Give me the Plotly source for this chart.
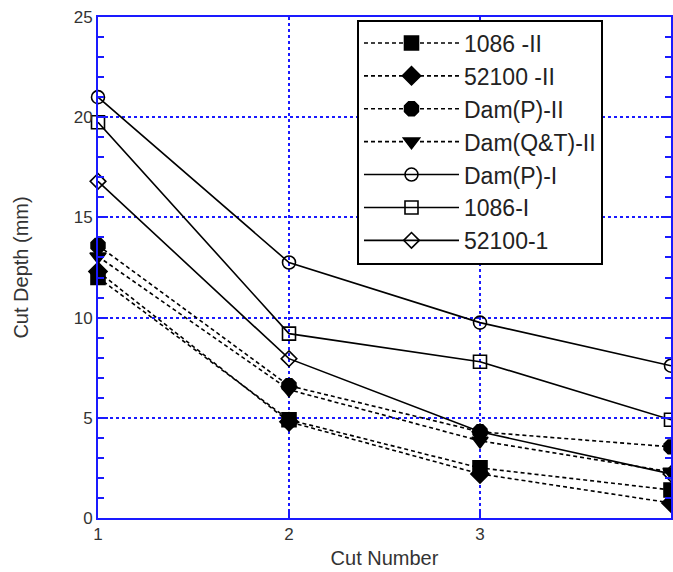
import plotly.graph_objects as go

cuts = [1, 2, 3, 4]

names = ["1086 -II", "52100 -II", "Dam(P)-II", "Dam(Q&T)-II", "Dam(P)-I", "1086-I", "52100-1"]
v_1086_II = [12.0, 4.9, 2.5, 1.4]
v_52100_II = [12.3, 4.8, 2.2, 0.75]
v_DamP_II = [13.6, 6.6, 4.3, 3.55]
v_DamQT_II = [13.05, 6.4, 3.85, 2.3]
v_DamP_I = [21.0, 12.75, 9.75, 7.6]
v_1086_I = [19.75, 9.2, 7.8, 4.9]
v_52100_1 = [16.8, 7.95, 4.3, 2.2]

series = [v_1086_II, v_52100_II, v_DamP_II, v_DamQT_II, v_DamP_I, v_1086_I, v_52100_1]
symbols = ["square", "diamond", "octagon", "triangle-down", "circle-open", "square-open", "diamond-open"]
sizes = [14, 14, 15, 14, 13, 13, 12]
dashed = [True, True, True, True, False, False, False]

fig = go.Figure()
for nm, vals, sym, sz, d in zip(names, series, symbols, sizes, dashed):
    fig.add_trace(go.Scatter(
        x=cuts, y=vals, name=nm, mode="lines+markers",
        line=dict(color="black", width=1.6, dash="4px,3px" if d else "solid"),
        marker=dict(symbol=sym, size=sz, color="black",
                    line=dict(color="black", width=1.6)),
        cliponaxis=False,
    ))

blue = "#1a1aff"
fig.update_layout(
    width=673, height=572,
    margin=dict(l=98, r=2, t=17, b=54, autoexpand=False),
    plot_bgcolor="white", paper_bgcolor="white",
    font=dict(family="Liberation Sans, Arial", size=17, color="#333"),
    showlegend=True,
    legend=dict(x=0.452, y=0.995, xanchor="left", yanchor="top",
                bgcolor="white", bordercolor="black", borderwidth=2,
                font=dict(size=23, color="#222"), tracegroupgap=0,
                itemwidth=95),
)
fig.update_xaxes(
    range=[1, 4], tickvals=[1, 2, 3, 4], ticks="inside", ticklen=8,
    tickcolor=blue, tickwidth=2, automargin=False,
    showline=True, linecolor=blue, linewidth=2, mirror=True,
    showgrid=True, gridcolor=blue, gridwidth=1.5, griddash="dot",
    zeroline=False,
    title=dict(text="Cut Number", standoff=8),
)
fig.update_yaxes(
    range=[0, 25], tickvals=[0, 5, 10, 15, 20, 25], ticks="inside", ticklen=10,
    tickcolor=blue, tickwidth=2, automargin=False,
    showline=True, linecolor=blue, linewidth=2, mirror="ticks",
    showgrid=True, gridcolor=blue, gridwidth=1.5, griddash="dot",
    zeroline=False,
    minor=dict(dtick=1, ticks="inside", ticklen=6, tickcolor=blue, tickwidth=2, showgrid=False),
    title=dict(text="Cut Depth (mm)", standoff=40),
)
fig.write_html("out.html", config={"displayModeBar": False},
               post_script="document.body.style.margin='0';document.body.style.overflow='hidden';")
